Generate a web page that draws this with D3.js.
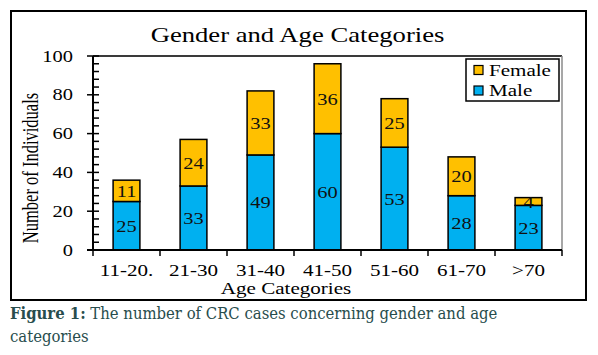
<!DOCTYPE html>
<html>
<head>
<meta charset="utf-8">
<script src="https://cdn.jsdelivr.net/npm/d3@7"></script>
<style>
  html, body { margin: 0; padding: 0; background: #fff; }
  svg { display: block; }
</style>
</head>
<body>
<div id="chart"></div>
<script>
// ---- data ----
const categories = ["11-20.", "21-30", "31-40", "41-50", "51-60", "61-70", ">70"];
const maleValues = [25, 33, 49, 60, 53, 28, 23];
const femaleValues = [11, 24, 33, 36, 25, 20, 4];
const seriesNames = ["Female", "Male"];
const yTicks = [0, 20, 40, 60, 80, 100];
const chartTitle = "Gender and Age Categories";
const xTitle = "Age Categories";
const yTitle = "Number of Individuals";
const captionBold = "Figure 1:";
const captionLine1 = " The number of CRC cases concerning gender and age";
const captionLine2 = "categories";

// ---- styles ----
const W = 598, H = 355;
const colors = { Male: "#00B0F0", Female: "#FFC000" };
const serif = "'Liberation Serif', 'Times New Roman', serif";
const capFont = "'DejaVu Serif Condensed', 'DejaVu Serif', serif";
const SX = 1.24; // horizontal stretch of the original picture's text

const svg = d3.select("#chart").append("svg").attr("width", W).attr("height", H);

// outer frame
svg.append("rect").attr("x", 11).attr("y", 11).attr("width", 575).attr("height", 289)
  .attr("fill", "none").attr("stroke", "#000").attr("stroke-width", 2);

const plot = { left: 93, right: 562, top: 56, bottom: 250 };

const x = d3.scaleBand().domain(categories).range([plot.left, plot.right])
  .paddingInner(0.6).paddingOuter(0.3);
const y = d3.scaleLinear().domain([0, 100]).range([plot.bottom, plot.top]);

function sText(sel, px, py, sx) {
  return sel.attr("transform", `translate(${px},${py}) scale(${sx || SX},1)`);
}

// plot frame (top and right)
svg.append("line").attr("x1", plot.left).attr("x2", plot.right)
  .attr("y1", plot.top).attr("y2", plot.top).attr("stroke", "#3a3a3a").attr("stroke-width", 2);
svg.append("line").attr("x1", plot.right).attr("x2", plot.right)
  .attr("y1", plot.top).attr("y2", plot.bottom).attr("stroke", "#8a8a8a").attr("stroke-width", 1.5);

// title
sText(svg.append("text"), (plot.left + plot.right) / 2 - 30, 42)
  .attr("text-anchor", "middle").attr("font-family", serif).attr("font-size", 21.5)
  .attr("fill", "#000").text(chartTitle);

// bars
const stackData = categories.map((c, i) => ({ cat: c, Male: maleValues[i], Female: femaleValues[i] }));
const stack = d3.stack().keys(["Male", "Female"])(stackData);
const g = svg.append("g");
stack.forEach(layer => {
  const key = layer.key;
  g.selectAll(null).data(layer).enter().append("rect")
    .attr("x", d => x(d.data.cat))
    .attr("width", x.bandwidth())
    .attr("y", d => y(d[1]))
    .attr("height", d => y(d[0]) - y(d[1]))
    .attr("fill", colors[key])
    .attr("stroke", "#000").attr("stroke-width", 1.5);
  layer.forEach(d => {
    const cy = (y(d[0]) + y(d[1])) / 2;
    sText(g.append("text"), x(d.data.cat) + x.bandwidth() / 2, cy + 6)
      .attr("text-anchor", "middle").attr("font-family", serif).attr("font-size", 16.5)
      .attr("fill", "#111").text(d.data[key]);
  });
});

// y axis
const yAxisG = svg.append("g");
yAxisG.append("line").attr("x1", plot.left).attr("x2", plot.left)
  .attr("y1", plot.top).attr("y2", plot.bottom).attr("stroke", "#000").attr("stroke-width", 2);
d3.range(0, 101, 4).filter(v => v % 20 !== 0).forEach(v => {
  yAxisG.append("line").attr("x1", plot.left).attr("x2", plot.left + 6)
    .attr("y1", y(v)).attr("y2", y(v)).attr("stroke", "#000").attr("stroke-width", 1.5);
});
yTicks.forEach(v => {
  yAxisG.append("line").attr("x1", plot.left - 6).attr("x2", plot.left + 6)
    .attr("y1", y(v)).attr("y2", y(v)).attr("stroke", "#000").attr("stroke-width", 1.5);
  sText(yAxisG.append("text"), plot.left - 20, y(v) + 5.5)
    .attr("text-anchor", "end").attr("font-family", serif).attr("font-size", 16.5)
    .attr("fill", "#000").text(v);
});

// x axis
const xAxisG = svg.append("g");
xAxisG.append("line").attr("x1", plot.left - 6).attr("x2", plot.right)
  .attr("y1", plot.bottom).attr("y2", plot.bottom).attr("stroke", "#000").attr("stroke-width", 2);
const step = x.step();
const bounds = categories.map(c => x(c) + x.bandwidth() / 2 - step / 2).concat([plot.right]);
bounds.forEach(b => {
  xAxisG.append("line").attr("x1", b).attr("x2", b)
    .attr("y1", plot.bottom).attr("y2", plot.bottom + 6).attr("stroke", "#000").attr("stroke-width", 1.5);
});
categories.forEach(c => {
  sText(xAxisG.append("text"), x(c) + x.bandwidth() / 2, 276)
    .attr("text-anchor", "middle").attr("font-family", serif).attr("font-size", 17)
    .attr("fill", "#000").text(c);
});

// axis titles
sText(svg.append("text"), 286, 294)
  .attr("text-anchor", "middle").attr("font-family", serif).attr("font-size", 17)
  .attr("fill", "#000").text(xTitle);
svg.append("text")
  .attr("transform", "translate(38,168) rotate(-90) scale(1,1.45)")
  .attr("text-anchor", "middle").attr("font-family", serif).attr("font-size", 16.5)
  .attr("fill", "#000").text(yTitle);

// legend
const leg = svg.append("g");
leg.append("rect").attr("x", 466).attr("y", 59).attr("width", 93).attr("height", 42)
  .attr("fill", "#fff").attr("stroke", "#000").attr("stroke-width", 1.5);
seriesNames.forEach((s, i) => {
  const ly = 70 + i * 20.5;
  leg.append("rect").attr("x", 474).attr("y", ly - 4.5).attr("width", 9).attr("height", 9)
    .attr("fill", colors[s]).attr("stroke", "#000").attr("stroke-width", 1.2);
  sText(leg.append("text"), 489, ly + 5.5)
    .attr("font-family", serif).attr("font-size", 17).attr("fill", "#000").text(s);
});

// caption
const cap = svg.append("text").attr("transform", "translate(10,319) scale(0.972,1)")
  .attr("font-family", capFont).attr("font-stretch", "condensed")
  .attr("font-size", 17).attr("fill", "#284d4d");
cap.append("tspan").attr("font-weight", "bold").text(captionBold);
cap.append("tspan").text(captionLine1);
svg.append("text").attr("transform", "translate(10,342) scale(0.972,1)")
  .attr("font-family", capFont).attr("font-stretch", "condensed")
  .attr("font-size", 17).attr("fill", "#284d4d").text(captionLine2);
</script>
</body>
</html>
